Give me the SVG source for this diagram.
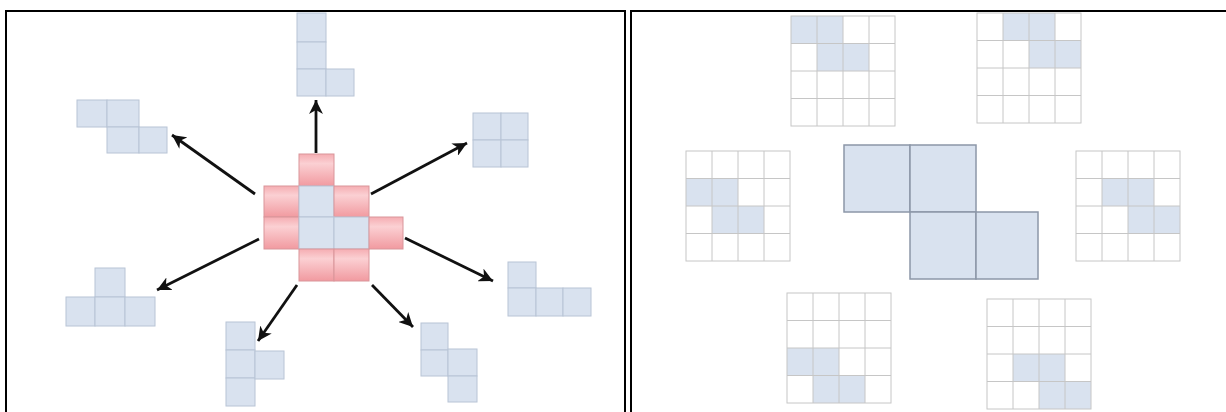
<svg xmlns="http://www.w3.org/2000/svg" xmlns:xlink="http://www.w3.org/1999/xlink" width="1226" height="412" viewBox="0 0 1226 412">
<style>
.panel{fill:#fff;stroke:#000;stroke-width:2}
.b{fill:#d9e2ef;stroke:#b8c4d5;stroke-width:1}
.r{fill:url(#redg);stroke:#d9959a;stroke-width:1}
.gl{fill:none;stroke:#c6c6c6;stroke-width:1}
.gb{fill:#d9e2ef;stroke:none}
.big{fill:#d9e2ef;stroke:#8c97a8;stroke-width:1.5}
.arr{fill:none;stroke:#111;stroke-width:2.8;marker-end:url(#ah)}
</style>
<defs>
<linearGradient id="redg" x1="0" y1="0" x2="0" y2="1">
<stop offset="0" stop-color="#f5adb2"/>
<stop offset="0.3" stop-color="#fbd0d3"/>
<stop offset="1" stop-color="#f19aa0"/>
</linearGradient>
<marker id="ah" markerUnits="userSpaceOnUse" markerWidth="16" markerHeight="14" refX="14" refY="7" orient="auto">
<path d="M0,0 L14,7 L0,14 L4,7 z" fill="#111"/>
</marker>
<g id="grid">
<rect x="0" y="0" width="104" height="110" class="gl"/>
<path d="M26,0V110M52,0V110M78,0V110M0,27.5H104M0,55H104M0,82.5H104" class="gl"/>
</g>
</defs>
<rect width="1226" height="412" fill="#fff"/>
<rect id="left-panel" x="6" y="11" width="619" height="410" class="panel"/>
<rect id="right-panel" x="631" y="11" width="610" height="410" class="panel"/>

<g id="center-piece">
<rect class="r" x="299" y="154" width="35" height="32"/>
<rect class="r" x="264" y="186" width="35" height="31"/>
<rect class="b" x="299" y="186" width="35" height="31"/>
<rect class="r" x="334" y="186" width="35" height="31"/>
<rect class="r" x="264" y="217" width="35" height="32"/>
<rect class="b" x="299" y="217" width="35" height="32"/>
<rect class="b" x="334" y="217" width="35" height="32"/>
<rect class="r" x="369" y="217" width="34" height="32"/>
<rect class="r" x="299" y="249" width="35" height="32"/>
<rect class="r" x="334" y="249" width="35" height="32"/>
</g>

<g id="piece-top">
<rect class="b" x="297" y="13" width="29" height="29"/>
<rect class="b" x="297" y="42" width="29" height="27"/>
<rect class="b" x="297" y="69" width="29" height="27"/>
<rect class="b" x="326" y="69" width="28" height="27"/>
</g>
<g id="piece-upper-left">
<rect class="b" x="77" y="100" width="30" height="27"/>
<rect class="b" x="107" y="100" width="32" height="27"/>
<rect class="b" x="107" y="127" width="32" height="26"/>
<rect class="b" x="139" y="127" width="28" height="26"/>
</g>
<g id="piece-upper-right">
<rect class="b" x="473" y="113" width="28" height="27"/>
<rect class="b" x="501" y="113" width="27" height="27"/>
<rect class="b" x="473" y="140" width="28" height="27"/>
<rect class="b" x="501" y="140" width="27" height="27"/>
</g>
<g id="piece-right">
<rect class="b" x="508" y="262" width="28" height="26"/>
<rect class="b" x="508" y="288" width="28" height="28"/>
<rect class="b" x="536" y="288" width="27" height="28"/>
<rect class="b" x="563" y="288" width="28" height="28"/>
</g>
<g id="piece-left">
<rect class="b" x="95" y="268" width="30" height="29"/>
<rect class="b" x="66" y="297" width="29" height="29"/>
<rect class="b" x="95" y="297" width="30" height="29"/>
<rect class="b" x="125" y="297" width="30" height="29"/>
</g>
<g id="piece-bottom-left">
<rect class="b" x="226" y="322" width="29" height="28"/>
<rect class="b" x="226" y="350" width="29" height="28"/>
<rect class="b" x="226" y="378" width="29" height="28"/>
<rect class="b" x="255" y="351" width="29" height="28"/>
</g>
<g id="piece-bottom-right">
<rect class="b" x="421" y="323" width="27" height="27"/>
<rect class="b" x="421" y="350" width="27" height="26"/>
<rect class="b" x="448" y="349" width="29" height="27"/>
<rect class="b" x="448" y="376" width="29" height="26"/>
</g>

<g id="connectors">
<line class="arr" x1="316" y1="153" x2="316" y2="100"/>
<line class="arr" x1="255" y1="194" x2="172" y2="135"/>
<line class="arr" x1="371" y1="194" x2="467" y2="143"/>
<line class="arr" x1="259" y1="239" x2="157" y2="290"/>
<line class="arr" x1="405" y1="238" x2="493" y2="281"/>
<line class="arr" x1="297" y1="285" x2="258" y2="341"/>
<line class="arr" x1="372" y1="285" x2="413" y2="327"/>
</g>

<g id="grid-top-left" transform="translate(791,16)">
<rect class="gb" x="0" y="0" width="52" height="27.5"/>
<rect class="gb" x="26" y="27.5" width="52" height="27.5"/>
<use xlink:href="#grid" href="#grid"/>
</g>
<g id="grid-top-right" transform="translate(977,13)">
<rect class="gb" x="26" y="0" width="52" height="27.5"/>
<rect class="gb" x="52" y="27.5" width="52" height="27.5"/>
<use xlink:href="#grid" href="#grid"/>
</g>
<g id="grid-mid-left" transform="translate(686,151)">
<rect class="gb" x="0" y="27.5" width="52" height="27.5"/>
<rect class="gb" x="26" y="55" width="52" height="27.5"/>
<use xlink:href="#grid" href="#grid"/>
</g>
<g id="grid-mid-right" transform="translate(1076,151)">
<rect class="gb" x="26" y="27.5" width="52" height="27.5"/>
<rect class="gb" x="52" y="55" width="52" height="27.5"/>
<use xlink:href="#grid" href="#grid"/>
</g>
<g id="grid-bottom-left" transform="translate(787,293)">
<rect class="gb" x="0" y="55" width="52" height="27.5"/>
<rect class="gb" x="26" y="82.5" width="52" height="27.5"/>
<use xlink:href="#grid" href="#grid"/>
</g>
<g id="grid-bottom-right" transform="translate(987,299)">
<rect class="gb" x="26" y="55" width="52" height="27.5"/>
<rect class="gb" x="52" y="82.5" width="52" height="27.5"/>
<use xlink:href="#grid" href="#grid"/>
</g>

<g id="center-shape">
<rect class="big" x="844" y="145" width="66" height="67"/>
<rect class="big" x="910" y="145" width="66" height="67"/>
<rect class="big" x="910" y="212" width="66" height="67"/>
<rect class="big" x="976" y="212" width="62" height="67"/>
</g>
</svg>
